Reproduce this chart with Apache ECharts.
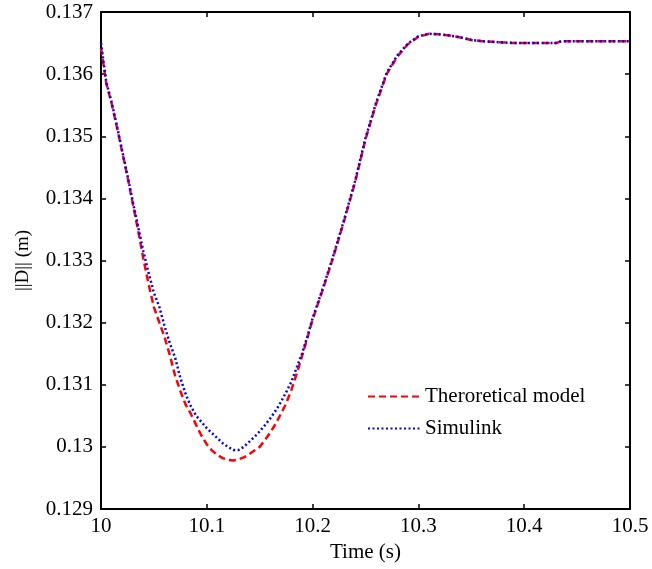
<!DOCTYPE html>
<html><head><meta charset="utf-8">
<script src="https://cdn.jsdelivr.net/npm/echarts@6/dist/echarts.min.js"></script>
<style>html,body{margin:0;padding:0;background:#fff}#c{width:652px;height:569px}</style>
</head><body><div id="c"></div>
<script>
var times = [10.000,10.005,10.010,10.015,10.020,10.025,10.030,10.035,10.040,10.045,10.050,10.055,10.060,10.065,10.070,10.075,10.080,10.085,10.090,10.095,10.100,10.105,10.110,10.115,10.120,10.125,10.130,10.135,10.140,10.145,10.150,10.155,10.160,10.165,10.170,10.175,10.180,10.185,10.190,10.195,10.200,10.210,10.220,10.230,10.240,10.250,10.260,10.270,10.280,10.290,10.300,10.310,10.320,10.330,10.340,10.350,10.360,10.370,10.380,10.390,10.400,10.410,10.420,10.430,10.435,10.440,10.450,10.460,10.470,10.480,10.490,10.500];
var theoretical = [0.13642,0.13585,0.13553,0.13515,0.13475,0.13435,0.13392,0.13349,0.13303,0.13262,0.13225,0.13201,0.13177,0.13148,0.13115,0.13090,0.13068,0.13053,0.13035,0.13018,0.13004,0.12994,0.12987,0.12982,0.12979,0.12978,0.12980,0.12983,0.12988,0.12994,0.13000,0.13011,0.13023,0.13037,0.13053,0.13070,0.13092,0.13118,0.13146,0.13175,0.13205,0.13255,0.13308,0.13365,0.13425,0.13495,0.13552,0.13600,0.13628,0.13648,0.13660,0.13665,0.13664,0.13662,0.13659,0.13655,0.13653,0.13652,0.13651,0.13650,0.13650,0.13650,0.13650,0.13650,0.13653,0.13653,0.13653,0.13653,0.13653,0.13653,0.13653,0.13653];
var simulink = [0.13650,0.13587,0.13555,0.13517,0.13477,0.13437,0.13395,0.13355,0.13315,0.13280,0.13248,0.13226,0.13195,0.13167,0.13144,0.13111,0.13085,0.13065,0.13050,0.13040,0.13030,0.13022,0.13014,0.13006,0.13000,0.12995,0.12995,0.13000,0.13008,0.13016,0.13025,0.13035,0.13046,0.13058,0.13072,0.13088,0.13105,0.13128,0.13150,0.13177,0.13207,0.13257,0.13310,0.13367,0.13427,0.13497,0.13554,0.13602,0.13630,0.13649,0.13661,0.13665,0.13664,0.13662,0.13659,0.13655,0.13653,0.13652,0.13651,0.13650,0.13650,0.13650,0.13650,0.13650,0.13653,0.13653,0.13653,0.13653,0.13653,0.13653,0.13653,0.13653];
var seriesNames = ['Theroretical model','Simulink'];
var xLabel = 'Time (s)';
var yLabel = '||D|| (m)';

function pairs(t, v){ return t.map(function(x,i){ return [x, v[i]]; }); }
var font = '"Liberation Serif", "DejaVu Serif", serif';
var chart = echarts.init(document.getElementById('c'), null, {renderer:'canvas'});
var axLine = {show:true, lineStyle:{color:'#000', width:2}};
var tick = {show:true, inside:true, length:5, lineStyle:{color:'#000', width:1.5}};
chart.setOption({
  backgroundColor:'#fff',
  animation:false,
  grid:{left:101, right:22, top:12, bottom:60, show:false},
  legend:{
    orient:'vertical', left:367, top:386, padding:0, itemWidth:52, itemHeight:14, itemGap:11,
    itemStyle:{opacity:0},
    textStyle:{fontFamily:font, fontSize:21, lineHeight:21, color:'#000'},
    data:seriesNames
  },
  xAxis:[{
    type:'value', min:10, max:10.5, interval:0.1,
    name:xLabel, nameLocation:'middle', nameGap:28,
    nameTextStyle:{fontFamily:font, fontSize:21, color:'#000'},
    axisLine:axLine, axisTick:tick,
    axisLabel:{fontFamily:font, fontSize:21, color:'#000', margin:7},
    splitLine:{show:false}
  },{
    type:'value', position:'top', min:10, max:10.5, interval:0.1,
    axisLine:axLine, axisTick:tick,
    axisLabel:{show:false}, splitLine:{show:false}
  }],
  yAxis:[{
    type:'value', min:0.129, max:0.137, interval:0.001,
    name:yLabel, nameLocation:'middle', nameGap:68,
    nameTextStyle:{fontFamily:font, fontSize:19, color:'#000'},
    axisLine:axLine, axisTick:tick,
    axisLabel:{fontFamily:font, fontSize:21, color:'#000', margin:8},
    splitLine:{show:false}
  },{
    type:'value', position:'right', min:0.129, max:0.137, interval:0.001,
    axisLine:axLine, axisTick:tick,
    axisLabel:{show:false}, splitLine:{show:false}
  }],
  series:[{
    name:seriesNames[0], type:'line', showSymbol:false, symbol:'none',
    data:pairs(times, theoretical),
    lineStyle:{color:'#ff0000', width:2.5, type:[7,4]}, itemStyle:{color:'#ff0000'}
  },{
    name:seriesNames[1], type:'line', showSymbol:false, symbol:'none',
    data:pairs(times, simulink),
    lineStyle:{color:'#0000ff', width:2.5, type:[2,2.5]}, itemStyle:{color:'#0000ff'}
  }]
});
</script></body></html>
